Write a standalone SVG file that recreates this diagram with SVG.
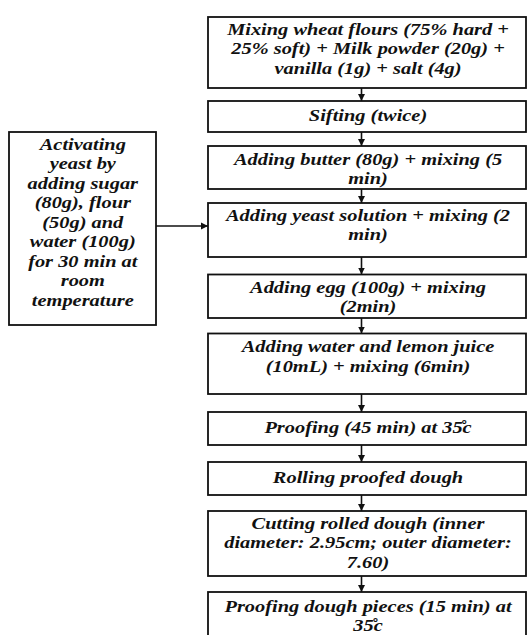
<svg xmlns="http://www.w3.org/2000/svg" width="527" height="635" viewBox="0 0 527 635">
<style>
.box{fill:#fff;stroke:#111;stroke-width:1.8}
.t{font-family:'Liberation Serif','DejaVu Serif',serif;font-weight:700;font-style:italic;font-size:17px;fill:#111;text-anchor:middle;transform:scale(1.2,1)}
.c{stroke:#111;stroke-width:1.6;fill:none}
</style>
<defs>
<marker id="ah" markerWidth="8" markerHeight="8" refX="7" refY="4" orient="auto" markerUnits="userSpaceOnUse">
<path d="M0,0.5 L7,4 L0,7.5 Z" fill="#111"/>
</marker>
</defs>
<rect width="527" height="635" fill="#fff"/>
<g id="connectors">
<line class="c" x1="361.5" y1="88" x2="361.5" y2="101" marker-end="url(#ah)"/>
<line class="c" x1="361.5" y1="132" x2="361.5" y2="146" marker-end="url(#ah)"/>
<line class="c" x1="361.5" y1="189" x2="361.5" y2="203" marker-end="url(#ah)"/>
<line class="c" x1="361.5" y1="257" x2="361.5" y2="274.5" marker-end="url(#ah)"/>
<line class="c" x1="361.5" y1="318" x2="361.5" y2="333.5" marker-end="url(#ah)"/>
<line class="c" x1="361.5" y1="394" x2="361.5" y2="412" marker-end="url(#ah)"/>
<line class="c" x1="361.5" y1="445" x2="361.5" y2="462" marker-end="url(#ah)"/>
<line class="c" x1="361.5" y1="495" x2="361.5" y2="511" marker-end="url(#ah)"/>
<line class="c" x1="361.5" y1="576" x2="361.5" y2="592" marker-end="url(#ah)"/>
<line class="c" x1="156" y1="226" x2="208" y2="226" marker-end="url(#ah)"/>
</g>
<g id="n1"><rect class="box" x="208" y="17" width="318" height="71"/>
<text class="t" x="306.7" y="35">Mixing wheat flours (75% hard +</text>
<text class="t" x="306.7" y="54.5">25% soft) + Milk powder (20g) +</text>
<text class="t" x="306.7" y="74">vanilla (1g) + salt (4g)</text></g>
<g id="n2"><rect class="box" x="208" y="101" width="318" height="31"/>
<text class="t" x="306.7" y="121">Sifting (twice)</text></g>
<g id="n3"><rect class="box" x="208" y="146" width="318" height="43"/>
<text class="t" x="306.7" y="165">Adding butter (80g) + mixing (5</text>
<text class="t" x="306.7" y="184">min)</text></g>
<g id="n4"><rect class="box" x="208" y="203" width="318" height="54"/>
<text class="t" x="306.7" y="221">Adding yeast solution + mixing (2</text>
<text class="t" x="306.7" y="240.5">min)</text></g>
<g id="n5"><rect class="box" x="208" y="274.5" width="318" height="43.5"/>
<text class="t" x="306.7" y="293">Adding egg (100g) + mixing</text>
<text class="t" x="306.7" y="312">(2min)</text></g>
<g id="n6"><rect class="box" x="208" y="333.5" width="318" height="60.5"/>
<text class="t" x="306.7" y="352">Adding water and lemon juice</text>
<text class="t" x="306.7" y="372">(10mL) + mixing (6min)</text></g>
<g id="n7"><rect class="box" x="208" y="412" width="318" height="33"/>
<text class="t" x="306.7" y="433">Proofing (45 min) at 35̊c</text></g>
<g id="n8"><rect class="box" x="208" y="462" width="318" height="33"/>
<text class="t" x="306.7" y="483">Rolling proofed dough</text></g>
<g id="n9"><rect class="box" x="208" y="511" width="318" height="65"/>
<text class="t" x="306.7" y="529">Cutting rolled dough (inner</text>
<text class="t" x="306.7" y="548.5">diameter: 2.95cm; outer diameter:</text>
<text class="t" x="306.7" y="568">7.60)</text></g>
<g id="n10"><rect class="box" x="208" y="592" width="318" height="50"/>
<text class="t" x="306.7" y="612">Proofing dough pieces (15 min) at</text>
<text class="t" x="306.7" y="631.5">35̊c</text></g>
<g id="side"><rect class="box" x="9" y="132" width="147" height="193"/>
<text class="t" x="69" y="150">Activating</text>
<text class="t" x="69" y="169.5">yeast by</text>
<text class="t" x="69" y="189">adding sugar</text>
<text class="t" x="69" y="208.5">(80g), flour</text>
<text class="t" x="69" y="228">(50g) and</text>
<text class="t" x="69" y="247.5">water (100g)</text>
<text class="t" x="69" y="267">for 30 min at</text>
<text class="t" x="69" y="286.5">room</text>
<text class="t" x="69" y="306">temperature</text></g>
</svg>
